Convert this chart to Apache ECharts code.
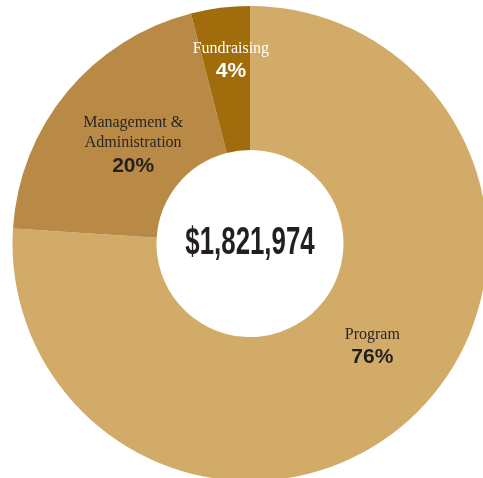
<!DOCTYPE html>
<html>
<head>
<meta charset="utf-8">
<script src="https://cdn.jsdelivr.net/npm/echarts@6/dist/echarts.min.js"></script>
<style>
html,body{margin:0;padding:0;background:#fff;}
#c{width:483px;height:478px;}
</style>
</head>
<body>
<div id="c"></div>
<script>
const categories = ['Program', 'Management &\nAdministration', 'Fundraising'];
const percents = [76, 20, 4];
const totalLabel = '$1,821,974';
const colors = ['#D3AB68', '#B98A45', '#A16D0C'];
const nameColors = ['#2b2622', '#2b2622', '#ffffff'];
const pctColors = ['#231f20', '#231f20', '#ffffff'];
const shifts = [[7, -19], [13, 10], [2, -15]];

const chart = echarts.init(document.getElementById('c'), null, {renderer: 'canvas'});
const data = categories.map((c, i) => ({
  name: c,
  value: percents[i],
  itemStyle: {color: colors[i]},
  label: {
    rich: {
      n: {fontFamily: 'Liberation Serif, DejaVu Serif, serif', fontSize: 16, color: nameColors[i], lineHeight: 20, align: 'center'},
      p: {fontFamily: 'Liberation Sans, sans-serif', fontWeight: 'bold', fontSize: 21, color: pctColors[i], lineHeight: 26, align: 'center'}
    }
  }
}));

chart.setOption({
  animation: false,
  graphic: [{
    type: 'text',
    x: 250,
    y: 244,
    scaleX: 0.68,
    style: {
      text: totalLabel,
      textAlign: 'center',
      textVerticalAlign: 'middle',
      font: 'bold 38px "Liberation Sans", sans-serif',
      fill: '#231f20'
    }
  }],
  series: [{
    type: 'pie',
    center: [250, 243.5],
    radius: [93.5, 237.5],
    startAngle: 90,
    clockwise: true,
    avoidLabelOverlap: false,
    itemStyle: {borderWidth: 0},
    label: {
      position: 'inside',
      formatter: p => p.name.split('\n').map(s => '{n|' + s + '}').join('\n') + '\n{p|' + p.value + '%}'
    },
    labelLine: {show: false},
    labelLayout: params => ({dx: shifts[params.dataIndex][0], dy: shifts[params.dataIndex][1]}),
    data: data
  }]
});
</script>
</body>
</html>
